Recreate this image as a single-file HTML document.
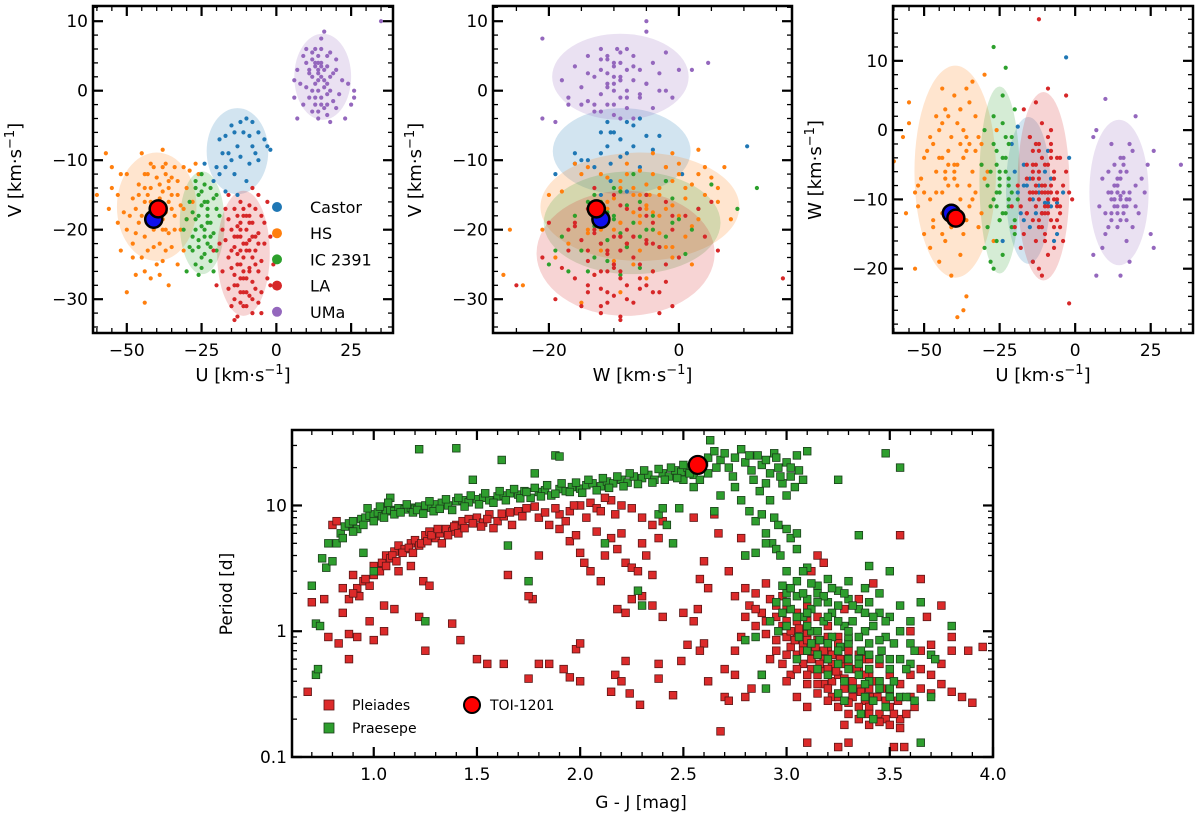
<!DOCTYPE html>
<html><head><meta charset="utf-8"><style>
html,body{margin:0;padding:0;background:#fff;}
svg{display:block;font-family:"DejaVu Sans","Liberation Sans",sans-serif;}
</style></head><body>
<svg id="fig" width="1200" height="821" viewBox="0 0 1200 821" xmlns="http://www.w3.org/2000/svg"></svg>
<script>
// ---------- Kinematic data: [U, V, W] km/s ----------
const castorStars=[[-12,-4.5,-8],[-10,-4,-6],[-8,-4.5,-11],[-15,-5,-7],[-14,-6,-10],[-11,-6,-12],[-9,-6.5,-3],[-17,-6.5,-5],[-19,-7,-9],[-6,-6,-10.5],[-4,-7,-9],[-13,-8,-11],[-8,-8,-7],[-16,-9,-8],[-18,-9,-12],[-7,-9,-16],[-12,-9.5,-9],[-2,-8.5,-4],[-15,-10,-14],[-9,-10.5,-10.5],[-20,-11,-6],[-17,-11,-13],[-14,-12,-19],[-10,-13,-10.5],[-6,-10,-15],[-21,-13,-2],[-17,-14.5,-8],[-13,-15,-12],[-24,-10.5,-16],[-19,-12,0.5],[-3,-8,10.5]];
const hsStars=[[-45,-9,-4],[-38,-8.5,3],[-42,-10.5,-8],[-37,-10.5,0],[-34,-11,7],[-31,-11,-2],[-29,-11.5,-6],[-44,-12,-12],[-40,-12.5,5],[-36,-13,-1],[-33,-13,-9],[-46,-13.5,2],[-50,-12,-15],[-42,-14,-3],[-38,-14.5,-18],[-35,-15,4],[-30,-14,-7],[-48,-15.5,-10],[-55,-14,1],[-53,-15,-20],[-44,-16,6],[-40,-16.5,-5],[-36,-16,-13],[-32,-16.5,-1],[-28,-16,-11],[-47,-17,-2],[-51,-17.5,-7],[-56,-17,-12],[-43,-18,-16],[-38,-18.5,3],[-34,-18,-6],[-30,-18.5,8],[-46,-19,-9],[-50,-20,-4],[-41,-20,-21],[-36,-20.5,-3],[-32,-20,-14],[-44,-21,1],[-48,-22,-17],[-39,-22,-8],[-35,-22.5,-2],[-52,-23,-11],[-43,-23,-6],[-45,-24,-19],[-38,-24.5,-10],[-33,-25,2],[-47,-26.5,-13],[-42,-27,-5],[-36,-28,-24],[-50,-29,-9],[-44,-30.5,-15],[-57,-9,-1],[-55,-11,4],[-52,-12,-8],[-41,-11,-14],[-37,-12,-4],[-26,-12,0],[-27,-10.5,-16],[-31,-23,-12],[-39,-26.5,-27],[-37,-20,-26],[-60,-15,-4.5],
[-43,-15,-7],[-39,-15.5,1],[-41,-17,-11],[-37,-17.5,-4],[-45,-18,0],[-40,-19,-6],[-42,-19.5,2],[-38,-20,-12],[-44,-14,-9],[-36,-14,6],[-33,-15,-3],[-35,-17,-8],[-47,-20.5,-14],[-41,-22.5,-1],[-39,-13.5,-5],[-43,-12,3],[-46,-15,-6],[-49,-18,-3],[-34,-20,-10],[-40,-25,-7],[-37,-23,-15],[-48,-24,-1],[-31,-17,-5],[-42,-16,-13],[-38,-11,-2],[-53,-19,-9],[-44,-26,-4],[-35,-12.5,-11]];
const icStars=[[-27,-13,-2],[-24,-13.5,5],[-22,-14,-10],[-26,-15,-5],[-21,-15.5,-1],[-29,-16,-14],[-25,-16.5,-8],[-20,-17,3],[-28,-17.5,-11],[-23,-18,-4],[-26,-18,-16],[-30,-18.5,0],[-22,-19,-7],[-25,-19.5,-13],[-27,-20,2],[-21,-20.5,-9],[-24,-21,-18],[-28,-21,-6],[-23,-22,-12],[-26,-22.5,-3],[-20,-23,-15],[-29,-22.5,-8],[-24,-23.5,1],[-22,-24.5,-11],[-27,-25,-20],[-25,-25.5,-6],[-21,-26,-14],[-26,-26.5,-9],[-30,-26,-17],[-23,-17,9],[-19,-18,-10],[-31,-20,-5],[-24,-16,-12],[-22,-21,-2],[-27,-14,12],[-28,-23,-19],[-25,-12,-7],[-20,-15,-13],
[-25,-14.5,-9],[-23,-16,-6],[-27,-18.5,-10],[-24,-20,-4],[-26,-21.5,-11],[-22,-22.5,-8],[-25,-24,-13],[-23,-19,-1]];
const laStars=[[-12,-16,-2],[-9,-16.5,-9],[-7,-17,-14],[-14,-17,-6],[-11,-18,1],[-5,-18,-11],[-16,-18.5,-12],[-8,-19,-4],[-13,-19.5,-16],[-10,-20,-8],[-15,-20,-1],[-6,-20.5,-13],[-12,-21,-10],[-9,-21.5,-5],[-17,-21.5,-15],[-4,-22,-8],[-11,-22,-12],[-14,-22.5,-3],[-7,-23,-17],[-10,-23,-9],[-13,-23.5,-11],[-16,-24,-7],[-8,-24,0],[-5,-24.5,-14],[-12,-25,-6],[-9,-25.5,-18],[-15,-25.5,-10],[-11,-26,-4],[-6,-26,-9],[-14,-26.5,-13],[-10,-27,-16],[-8,-27.5,-2],[-13,-28,-8],[-16,-28.5,-12],[-7,-28.5,-6],[-11,-29,-14],[-9,-29.5,-10],[-14,-30,-19],[-12,-30.5,-7],[-6,-30.5,-11],[-10,-31,-15],[-8,-32,-3],[-13,-32.5,-9],[-5,-32,-12],[-19,-22,-8],[-18,-26,-11],[-3,-27,-6],[-20,-28,-14],[-2,-21,-9],[-17,-17,3],[-12,-19,-20],[-9,-23,6],[-4,-19,-16],[-15,-31,-1],[-11,-24,-21],[-7,-21,-7],[-13,-21,4],[-10,-18,-12],[-6,-15,-10],[-16,-15,-5],[-8,-14,-13],[-2,-28,-25],[-12,-27,16],[-3,-16,5],[-18,-20,-17],[-21,-23,-11],[-14,-33,-9],[-5,-29,-4],[-1,-25,-10],
[-11,-17,-8],[-13,-18,-5],[-9,-19,-11],[-12,-20,-13],[-8,-21,-9],[-14,-21,-7],[-10,-22,-5],[-12,-23,-14],[-7,-25,-10],[-13,-25,-2],[-9,-26,-12],[-11,-27,-9],[-14,-28,-5],[-10,-29,-11],[-8,-30,-8],[-12,-29,-3],[-15,-23,-9],[-6,-22,-4],[-9,-18,-1],[-11,-31,-12]];
const umaStars=[[16,8.5,-5],[10,6,-12],[12,5.5,-2],[18,5.5,-9],[14,5,-14],[9,5,-7],[20,4.5,-11],[15,4,-4],[13,3.5,-10],[17,3.5,-16],[11,3,-6],[14,3,-8],[16,3,-12],[19,2.5,-3],[12,2,-9],[15,2,-13],[22,1.5,-7],[8,1,-11],[13,1,-5],[17,1,-10],[10,0.5,-15],[14,0,-8],[18,0,-2],[21,-0.5,-12],[11,-1,-9],[15,-1,-6],[19,-1.5,-14],[13,-2,-11],[16,-2.5,-4],[9,-2,-17],[20,-2.5,-8],[12,-3,-13],[17,-3.5,-10],[14,-4,-7],[18,-4.5,-19],[7,3,0],[6,-1,-1],[24,1,-5],[26,0,-3],[25,-2,-15],[7,-4,-21],[15,6,-9.5],[13,4,-10],[14,2.5,-11],[16,1.5,-9],[14,-3,-12],[17,-2,-13],[12,0,-10],[20,3,2],[6,1.5,-18],[26,-1,-17],[15,7.5,-21],[10,4,4.5],[35,10,-5],[23,-4,-9],
[13,6,-8],[17,5,-11],[15,3.5,-7],[12,4.5,-12],[18,2,-10],[14,1.5,-9],[16,0.5,-11],[13,-1,-8],[15,-2,-10],[11,2.5,-14],[17,-0.5,-6],[14,4,-9]];
const groupNames=["Castor","HS","IC 2391","LA","UMa"];
const groupColors=["#1f77b4","#ff7f0e","#2ca02c","#d62728","#9467bd"];
// ellipses: [centerX, centerY, halfX, halfY] per group per panel
const ellUV=[[-13,-8.7,10.3,6.2],[-40,-16.7,13.3,7.8],[-24.8,-19,7.5,7.4],[-11,-23.4,8.8,9],[15.5,2,9.5,6.2]];
const ellWV=[[-8.8,-8.7,10.6,6.2],[-6,-16.7,15.3,7.8],[-7.2,-19,13.6,7.4],[-8.2,-23.4,13.7,9],[-9,2,10.5,6.2]];
const ellUW=[[-15.5,-8.7,7.4,10.6],[-39.7,-6,13.5,15.3],[-25,-7.2,6.7,13.5],[-10.5,-8.1,8.6,13.6],[14.5,-9,9.8,10.5]];
const toiBlue=[-41,-18.5,-12];
const toiRed=[-39.5,-17,-12.7];
// ---------- Rotation data: [G-J, Period d] ----------
const pleiades=[[0.8,7.0],[0.82,7.5],[0.85,1.4],[0.88,1.8],[0.9,2.8],[0.92,2.2],[0.93,1.9],[0.95,2.5],[0.98,2.3],[1.0,2.8],[1.02,3.2],[1.04,3.5],[1.06,4.0],[1.08,3.8],[1.1,4.3],[1.12,4.8],[1.15,4.5],[1.18,5.0],[1.2,5.3],[1.22,4.8],[1.25,5.8],[1.27,6.2],[1.3,5.5],[1.32,6.0],[1.35,6.5],[1.38,6.2],[1.4,7.0],[1.43,7.5],[1.46,7.8],[1.5,8.0],[1.53,7.3],[1.56,8.5],[1.6,7.5],[1.63,8.2],[1.66,8.8],[1.7,9.0],[1.74,9.5],[1.8,8.0],[1.85,7.0],[1.9,8.5],[1.95,9.0],[2.0,10.0],[2.05,10.5],[2.08,9.5],[2.15,11.0],[2.2,10.0],[2.25,9.5],[2.3,8.0],[2.35,7.0],[2.4,7.5],[2.55,8.0],[2.65,8.5],
[1.9,6.5],[1.95,5.2],[2.0,4.2],[2.05,3.0],[2.1,2.5],[2.15,5.5],[2.18,4.5],[2.2,6.0],[2.22,3.5],[2.25,3.2],[2.28,3.0],[2.3,5.0],[2.32,4.0],[2.35,2.8],[2.38,5.5],[1.98,5.8],[2.02,3.5],[2.08,6.2],[2.12,4.0],[2.25,1.8],[2.18,1.5],[2.22,1.4],[2.3,1.9],[2.35,1.6],[2.4,1.3],[2.5,1.4],[2.55,1.2],[2.6,0.8],[2.58,2.6],[2.6,3.6],[2.62,2.2],[2.57,1.5],[2.67,6.0],[2.78,5.5],[2.8,4.0],[2.72,3.0],[2.75,1.9],[1.12,3.0],[1.18,3.3],[1.24,2.5],[1.27,2.3],[1.1,1.5],[1.05,1.6],[0.98,1.2],[0.88,0.95],[0.83,0.8],[0.78,0.9],[0.76,1.8],[0.7,1.7],[0.88,0.6],[0.92,0.9],[1.22,1.3],[1.25,0.7],[1.38,1.15],[1.42,0.85],[1.55,0.55],[1.63,0.55],[1.75,0.42],[1.8,0.55],[1.85,0.55],[1.92,0.5],[1.95,0.43],[1.98,0.72],[2.0,0.8],[2.0,0.4],[2.15,0.33],[2.17,0.45],[2.2,0.4],[2.22,0.58],[2.24,0.32],[2.29,0.26],[2.38,0.42],[2.38,0.55],[2.45,0.31],[2.49,0.58],[2.52,0.78],[2.58,0.7],[2.62,0.4],[2.7,0.5],[2.7,0.3],[2.72,0.28],[2.75,0.45],[2.8,0.3],[2.83,0.35],[2.88,0.45],[2.68,0.16],[1.8,4.0],[1.77,1.8],[1.65,2.8],[1.75,1.9],[0.68,0.33],[1.5,0.6],[1.0,0.85],[1.05,1.0],
[2.8,2.2],[2.85,2.0],[2.9,2.4],[2.82,1.6],[2.88,1.4],[2.92,1.8],[2.95,1.3],[2.98,1.1],[3.0,1.5],[2.85,1.1],[2.9,0.95],[2.95,0.85],[3.0,0.9],[3.02,0.75],[3.05,1.2],[3.08,0.8],[3.1,0.95],[3.12,0.7],[3.15,0.85],[3.18,0.6],[3.2,0.75],[3.05,0.65],[3.08,0.55],[3.12,0.5],[3.15,0.45],[3.18,0.5],[3.22,0.4],[3.25,0.45],[3.28,0.35],[3.3,0.4],[3.32,0.3],[3.35,0.35],[3.38,0.28],[3.4,0.25],[3.42,0.3],[3.45,0.22],[3.48,0.2],[3.5,0.25],[3.22,0.3],[3.25,0.25],[3.3,0.22],[3.35,0.2],[3.4,0.18],[3.28,0.18],[3.02,0.45],[3.0,0.4],[2.98,0.55],[3.1,0.38],[3.15,0.32],[3.2,0.28],[3.05,0.3],[3.1,0.25],[3.1,0.13],[3.25,0.12],[3.3,0.13],[3.52,0.12],[3.57,0.12],[3.55,0.2],[3.6,0.3],[3.62,0.25],[3.65,0.35],[3.7,0.32],[3.75,0.38],[3.8,0.33],[3.85,0.3],[3.9,0.27],[3.88,0.7],[3.8,0.7],[3.75,1.6],[3.68,1.3],[3.65,2.6],[3.6,1.0],[3.55,5.8],[3.42,2.4],[3.65,0.7],[3.7,0.78],[3.8,0.9],[3.95,0.75],[3.45,0.55],[3.5,0.45],[3.55,0.38],[3.38,0.6],[3.3,0.7],[3.25,0.9],[3.2,1.1],[3.15,1.3],[3.1,1.6],[3.12,3.0],[3.15,4.0],[3.18,3.5],[3.28,1.5],[3.35,1.8],[3.22,0.55],[3.35,0.5],[3.45,0.4],[2.92,0.6],[2.95,0.7],[3.05,0.9],[3.18,0.38],[3.28,0.55],[3.4,0.45],
[0.85,2.2],[0.9,2.0],[0.96,2.6],[1.0,3.3],[1.03,3.0],[1.06,3.3],[1.09,4.0],[1.11,3.6],[1.14,4.2],[1.17,4.6],[1.19,4.2],[1.23,5.0],[1.26,5.2],[1.28,5.8],[1.31,6.5],[1.33,5.0],[1.36,5.8],[1.39,6.8],[1.41,6.0],[1.44,6.6],[1.48,7.2],[1.52,6.8],[1.55,7.8],[1.58,6.6],[1.62,8.6],[1.67,7.0],[1.72,8.2],[1.78,9.8],[1.83,8.8],[1.88,9.5],[1.93,7.5],[1.97,10.0],[2.03,8.0],[2.1,9.0],[2.17,8.5],[2.12,11.5],
[2.95,1.6],[2.98,1.9],[3.0,1.2],[3.02,1.0],[3.04,0.85],[3.06,1.05],[3.08,0.7],[3.1,0.85],[3.12,0.6],[3.14,0.75],[3.16,0.55],[3.18,0.7],[3.2,0.5],[3.22,0.65],[3.24,0.48],[3.26,0.6],[3.28,0.42],[3.3,0.55],[3.32,0.4],[3.34,0.5],[3.36,0.33],[3.38,0.45],[3.4,0.35],[3.42,0.4],[3.44,0.3],[3.46,0.35],[3.48,0.28],[3.5,0.32],[3.52,0.22],[3.54,0.28],[3.0,0.65],[3.05,0.5],[3.1,0.45],[3.15,0.38],[3.2,0.35],[3.25,0.3],[3.3,0.27],[3.35,0.25],[3.4,0.22],[3.45,0.19],[3.5,0.18],[3.55,0.17],[3.58,0.22],[3.1,1.2],[3.05,1.4],[3.15,1.0],[3.2,0.9],[3.25,0.8],[3.3,0.85],[3.35,0.65],[3.4,0.6],[2.9,1.2],[2.85,1.5],[2.8,1.3],[2.78,0.9],[2.75,0.7],[3.6,0.45],[3.65,0.5],[3.7,0.45],[3.75,0.55]];
const praesepe=[[0.7,2.3],[0.72,1.15],[0.74,1.1],[0.75,3.8],[0.77,3.2],[0.78,5.0],[0.8,3.6],[0.82,5.0],[0.84,6.0],[0.86,6.8],[0.88,7.2],[0.9,7.5],[0.92,6.5],[0.94,7.8],[0.96,8.0],[0.98,8.3],[1.0,8.5],[1.02,8.8],[1.04,8.2],[1.06,9.0],[1.08,9.2],[1.1,9.0],[1.12,9.5],[1.15,9.3],[1.18,9.6],[1.2,9.4],[1.22,9.8],[1.25,10.0],[1.28,9.6],[1.3,10.2],[1.33,10.5],[1.36,10.0],[1.4,10.8],[1.43,11.0],[1.46,10.6],[1.5,11.2],[1.53,11.5],[1.56,11.0],[1.6,11.8],[1.63,12.0],[1.66,12.5],[1.7,12.2],[1.73,13.0],[1.76,11.5],[1.8,12.8],[1.83,13.2],[1.86,12.0],[1.9,13.5],[1.93,13.0],[1.96,14.0],[2.0,13.6],[2.03,14.5],[2.06,15.0],[2.1,14.2],[2.13,15.5],[2.16,15.0],[2.2,16.0],[2.23,15.2],[2.26,17.0],[2.3,16.5],[2.33,17.5],[2.36,16.0],[2.4,18.0],[2.43,17.0],[2.46,19.0],[2.49,18.5],[2.52,20.0],[2.55,17.5],[2.6,22.0],[2.62,24.0],[2.65,27.0],[2.68,23.0],[2.7,26.0],[2.72,20.0],[2.75,24.0],[2.78,28.0],[2.8,22.0],[2.83,19.0],[2.86,25.0],[2.88,21.0],[2.9,23.0],[2.92,18.0],[2.94,26.0],[2.96,20.0],[2.98,15.0],[3.0,22.0],[3.02,17.0],[3.04,14.0],[3.06,19.0],[3.08,16.0],[2.75,14.0],[2.78,11.0],[2.82,9.0],[2.85,7.5],[2.88,8.5],[2.9,6.0],[2.93,5.0],[2.95,4.5],[2.97,4.0],[3.0,6.5],[3.02,5.5],[3.05,6.0],[2.8,4.0],[2.85,4.2],[2.68,12.0],[2.65,9.0],[2.42,7.0],[2.38,8.5],[2.4,9.5],[2.48,9.5],[2.55,14],[2.5,16],
[1.22,28],[1.4,28.5],[1.62,23],[1.78,18],[1.88,25],[1.48,16],[1.9,24.5],[3.1,27],[3.48,26],[3.55,20],[3.25,16],[2.63,33],[1.08,11.5],[0.95,4.2],[1.0,3.0],[1.25,1.2],[1.75,2.5],[1.65,4.8],[2.28,2.1],[2.3,1.6],[2.45,5],[2.12,5.0],[0.72,0.45],[0.73,0.5],
[3.0,3.0],[3.05,2.5],[3.1,3.2],[3.15,2.3],[3.2,2.6],[3.25,2.1],[3.0,2.0],[3.05,1.9],[3.1,1.8],[3.15,2.0],[3.2,1.7],[3.25,1.6],[3.3,1.8],[3.35,1.5],[3.4,1.7],[3.45,1.4],[3.5,1.3],[3.55,1.6],[2.95,1.7],[2.98,1.4],[3.02,1.5],[3.08,1.3],[3.12,1.5],[3.18,1.2],[3.22,1.4],[3.28,1.1],[3.32,1.2],[3.38,1.0],[3.42,1.1],[3.48,0.9],[3.52,0.8],[2.92,1.2],[2.96,1.0],[3.0,1.1],[3.06,0.9],[3.12,1.0],[3.16,0.85],[3.22,0.9],[3.26,0.75],[3.3,0.8],[3.36,0.7],[3.4,0.65],[3.46,0.7],[3.55,0.6],[3.6,0.55],[3.1,0.7],[3.15,0.65],[3.2,0.6],[3.25,0.55],[3.3,0.5],[3.35,0.45],[3.4,0.5],[3.45,0.4],[3.5,0.35],[3.28,0.4],[3.32,0.35],[3.38,0.3],[3.42,0.28],[3.48,0.25],[3.25,0.32],[3.2,0.45],[3.36,0.22],[3.55,0.3],[3.62,0.28],[3.7,0.3],[3.8,1.1],[3.7,0.65],[3.6,0.8],[3.5,3.0],[3.4,3.3],[3.35,5.8],[3.58,0.3],[3.65,0.13],[3.15,0.5],[2.85,0.9],[2.8,0.85],[2.88,0.45],[2.9,0.35],[3.05,0.6],[3.1,1.1],[3.3,0.9],[3.45,0.85],[3.5,0.6],[3.35,0.6],
[0.85,5.5],[0.9,6.2],[0.95,7.0],[0.97,9.5],[1.0,7.5],[1.03,9.8],[1.05,8.0],[1.07,10.5],[1.1,8.5],[1.13,8.8],[1.16,10.2],[1.19,8.8],[1.21,9.2],[1.24,8.6],[1.27,10.8],[1.29,9.0],[1.32,9.4],[1.35,11.2],[1.38,9.2],[1.41,11.5],[1.44,9.8],[1.47,12.0],[1.51,10.2],[1.54,12.5],[1.58,10.5],[1.61,13.0],[1.64,11.0],[1.68,13.5],[1.71,11.4],[1.74,12.8],[1.78,13.8],[1.81,11.8],[1.84,14.5],[1.88,12.4],[1.91,15.0],[1.95,12.8],[1.98,15.2],[2.01,12.6],[2.04,16.0],[2.08,13.2],[2.11,16.5],[2.14,13.8],[2.18,17.0],[2.21,14.2],[2.24,18.0],[2.28,14.8],[2.31,19.0],[2.35,15.2],[2.38,19.5],[2.41,16.0],[2.44,20.0],[2.47,16.5],[2.5,21.0],[2.53,18.0],[2.58,16.0],[2.62,18.0],[2.66,20.0],[2.74,17.0],[2.82,25.0],[2.84,16.0],[2.87,13.0],[2.9,15.0],[2.92,11.0],[2.95,24.0],[2.97,17.0],[3.0,12.0],[3.02,20.0],[3.05,25.0],[2.94,8.0],[2.96,7.0],[2.9,5.0],[3.05,4.5],[3.08,3.0],
[3.02,2.2],[3.08,2.0],[3.12,2.4],[3.18,1.9],[3.22,2.2],[3.28,2.0],[3.32,1.6],[3.38,1.4],[3.42,1.3],[3.48,1.2],[3.1,1.4],[3.15,1.7],[3.2,1.3],[3.25,1.2],[3.3,1.0],[3.35,0.9],[3.4,0.8],[3.45,0.6],[3.5,0.5],[3.2,0.8],[3.25,0.7],[3.3,0.6],[3.35,0.55],[3.4,0.4],[3.45,0.35],[3.5,0.3],[3.15,1.0],[3.05,1.3],[3.0,1.7],[2.98,2.3],[3.12,0.8],[3.28,0.28],[3.38,0.38],[3.42,0.2],[3.52,0.4],[3.58,0.5],[3.62,0.7],[3.55,1.0],[3.6,1.2],[3.65,1.7],[3.72,0.6],[3.45,2.0],[3.38,2.2],[3.3,2.5]];
const toiRot=[2.57,21];
const xTicksU=[-50,-25,0,25], xTicksW=[-20,0], yTicksV=[10,0,-10,-20,-30], yTicksW=[10,0,-10,-20];
const xTicksGJ=[1.0,1.5,2.0,2.5,3.0,3.5,4.0], yTicksP=[0.1,1,10], yTickLabelsP=["0.1","1","10"];

const NS="http://www.w3.org/2000/svg";
const svg=document.getElementById('fig');
function mk(tag,attrs,parent){const e=document.createElementNS(NS,tag);for(const k in attrs)e.setAttribute(k,attrs[k]);(parent||svg).appendChild(e);return e;}
function lin(d0,d1,r0,r1){return v=>r0+(v-d0)*(r1-r0)/(d1-d0);}
function fmt(v){return v<0?"\u2212"+(-v):String(v);}

function panel(cfg){
  const g=mk('g',{});
  
  
  const X=lin(cfg.xd[0],cfg.xd[1],cfg.L,cfg.R), Y=cfg.ylog?(v=>cfg.B-(Math.log10(v)-cfg.yd[0])*(cfg.B-cfg.T)/(cfg.yd[1]-cfg.yd[0])):lin(cfg.yd[0],cfg.yd[1],cfg.B,cfg.T);
  const clipId='c'+cfg.name;
  const cp=mk('clipPath',{id:clipId},g);mk('rect',{x:cfg.L,y:cfg.T,width:cfg.R-cfg.L,height:cfg.B-cfg.T},cp);
  const plot=mk('g',{'clip-path':'url(#'+clipId+')'},g);
  
  
  return {g,plot,X,Y,cfg};
}
function frame(p){
  const c=p.cfg,g=p.g;
  for(let v=Math.ceil(c.xd[0]/c.xminor)*c.xminor;v<=c.xd[1]+1e-9;v+=c.xminor){const x=p.X(v);
    mk('line',{x1:x,x2:x,y1:c.B,y2:c.B-5,stroke:'#000','stroke-width':1.3},g);mk('line',{x1:x,x2:x,y1:c.T,y2:c.T+5,stroke:'#000','stroke-width':1.3},g);}
  c.xticks.forEach((v,i)=>{const x=p.X(v);
    mk('line',{x1:x,x2:x,y1:c.B,y2:c.B-10,stroke:'#000','stroke-width':2.2},g);mk('line',{x1:x,x2:x,y1:c.T,y2:c.T+10,stroke:'#000','stroke-width':2.2},g);
    const t=mk('text',{x:x,y:c.B+23,'text-anchor':'middle','font-size':c.tfs||17},g);t.textContent=c.xlabels?c.xlabels[i]:fmt(v);
    });
  if(c.ylog){
    for(let d=Math.floor(c.yd[0]);d<Math.ceil(c.yd[1]);d++)for(let m=2;m<=9;m++){const v=m*Math.pow(10,d);if(Math.log10(v)>c.yd[1])continue;const y=p.Y(v);
      mk('line',{x1:c.L,x2:c.L+5,y1:y,y2:y,stroke:'#000','stroke-width':1.3},g);mk('line',{x1:c.R,x2:c.R-5,y1:y,y2:y,stroke:'#000','stroke-width':1.3},g);}
  } else {
    for(let v=Math.ceil(c.yd[0]/c.yminor)*c.yminor;v<=c.yd[1]+1e-9;v+=c.yminor){const y=p.Y(v);
      mk('line',{x1:c.L,x2:c.L+5,y1:y,y2:y,stroke:'#000','stroke-width':1.3},g);mk('line',{x1:c.R,x2:c.R-5,y1:y,y2:y,stroke:'#000','stroke-width':1.3},g);}
  }
  c.yticks.forEach((v,i)=>{const y=p.Y(v);
    mk('line',{x1:c.L,x2:c.L+10,y1:y,y2:y,stroke:'#000','stroke-width':2.2},g);mk('line',{x1:c.R,x2:c.R-10,y1:y,y2:y,stroke:'#000','stroke-width':2.2},g);
    const t=mk('text',{x:c.L-5,y:y+6,'text-anchor':'end','font-size':c.tfs||17},g);t.textContent=c.ylabels?c.ylabels[i]:fmt(v);
    });
  const r=mk('rect',{x:c.L,y:c.T,width:c.R-c.L,height:c.B-c.T,fill:'none',stroke:'#000','stroke-width':2.5},g);
  
}
function kmLabel(g,x,y,letter,rot,name){
  const t=mk('text',{x:x,y:y,'text-anchor':'middle','font-size':18},g);
  if(rot)t.setAttribute('transform','rotate(-90 '+x+' '+y+')');
  
  const a=mk('tspan',{},t);a.textContent=letter+" [km\u00b7s";
  const b=mk('tspan',{dy:-7,'font-size':13},t);b.textContent="\u22121";
  const c=mk('tspan',{dy:7},t);c.textContent="]";
}
const groups=[castorStars,hsStars,icStars,laStars,umaStars];
function kinPanel(name,L,R,xd,yd,ix,iy,ells,xticks,yticks,xminor,yminor,xl,yl){
  const p=panel({name,L,R,T:6,B:333,xd,yd,xticks,yticks,xminor,yminor});
  ells.forEach((e,k)=>{const el=mk('ellipse',{cx:p.X(e[0]),cy:p.Y(e[1]),rx:Math.abs(p.X(e[0]+e[2])-p.X(e[0])),ry:Math.abs(p.Y(e[1]+e[3])-p.Y(e[1])),fill:groupColors[k],'fill-opacity':0.2},p.plot);
    });
  groups.forEach((arr,k)=>arr.forEach(s=>{const c=mk('circle',{cx:p.X(s[ix]),cy:p.Y(s[iy]),r:2.1,fill:groupColors[k]},p.plot);
    }));
  [[toiBlue,'#1010ee','toi-blue-marker'],[toiRed,'#ff0000','toi-red-marker']].forEach(m=>{
    const c=mk('circle',{cx:p.X(m[0][ix]),cy:p.Y(m[0][iy]),r:8.5,fill:m[1],stroke:'#000','stroke-width':2.5},p.plot);
    });
  frame(p);
  kmLabel(p.g,(L+R)/2,381,xl,false,'x-axis-title');
  kmLabel(p.g,L-72,170,yl,true,'y-axis-title');
  return p;
}
const V0=(90.7-6)/6.95, V1=-(333-90.7)/6.95;
kinPanel('uv-panel',93,393,[-61.3,39],[V1,V0],0,1,ellUV,xTicksU,yTicksV,5,2,'U','V');
kinPanel('wv-panel',493,792,[-28.6,17.4],[V1,V0],2,1,ellWV,xTicksW,yTicksV,5,2,'W','V');
kinPanel('uw-panel',893,1193,[-60.3,39],[10-273/6.95,10+55/6.95],0,2,ellUW,xTicksU,yTicksW,5,2,'U','W');
const lg=mk('g',{});
groupNames.forEach((n,k)=>{const y=207+k*26.2;
  const c=mk('circle',{cx:277,cy:y,r:5,fill:groupColors[k]},lg);
  const t=mk('text',{x:310,y:y+6,'font-size':16},lg);t.textContent=n;});

// ---------- bottom panel ----------
const pb=panel({name:'rotation-panel',L:292,R:993,T:430,B:757,xd:[0.604,4.0],yd:[-1,1.6],ylog:true,xticks:xTicksGJ,xlabels:xTicksGJ.map(v=>v.toFixed(1)),yticks:yTicksP,ylabels:yTickLabelsP,xminor:0.1,tfs:17});
function sq(p,d,fill,stroke,name){const x=p.X(d[0]),y=p.Y(d[1]);const r=mk('rect',{x:x-3.8,y:y-3.8,width:7.6,height:7.6,fill:fill,stroke:stroke,'stroke-width':0.8},p.plot);
  }
pleiades.forEach(d=>sq(pb,d,'#dc2a2a','#5a1515','pleiades-point'));
praesepe.forEach(d=>sq(pb,d,'#2e9e2e','#1a3f1a','praesepe-point'));
{const c=mk('circle',{cx:pb.X(toiRot[0]),cy:pb.Y(toiRot[1]),r:9,fill:'#ff0000',stroke:'#000','stroke-width':2.2},pb.plot);}
frame(pb);
{const t=mk('text',{x:232,y:594,'text-anchor':'middle','font-size':17,transform:'rotate(-90 232 594)'});t.textContent="Period [d]";
 const t2=mk('text',{x:641,y:808,'text-anchor':'middle','font-size':17});t2.textContent="G - J [mag]";}
const lb=mk('g',{});
[['Pleiades','#dc2a2a','#5a1515',705],['Praesepe','#2e9e2e','#1a3f1a',728]].forEach(e=>{
  const r=mk('rect',{x:324,y:e[3]-5,width:10,height:10,fill:e[1],stroke:e[2],'stroke-width':0.8},lb);
  const t=mk('text',{x:352,y:e[3]+5,'font-size':14},lb);t.textContent=e[0];});
{const c=mk('circle',{cx:472,cy:705,r:8,fill:'#ff0000',stroke:'#000','stroke-width':2},lb);
 const t=mk('text',{x:490,y:710,'font-size':14},lb);t.textContent="TOI-1201";}
</script>
</body></html>
